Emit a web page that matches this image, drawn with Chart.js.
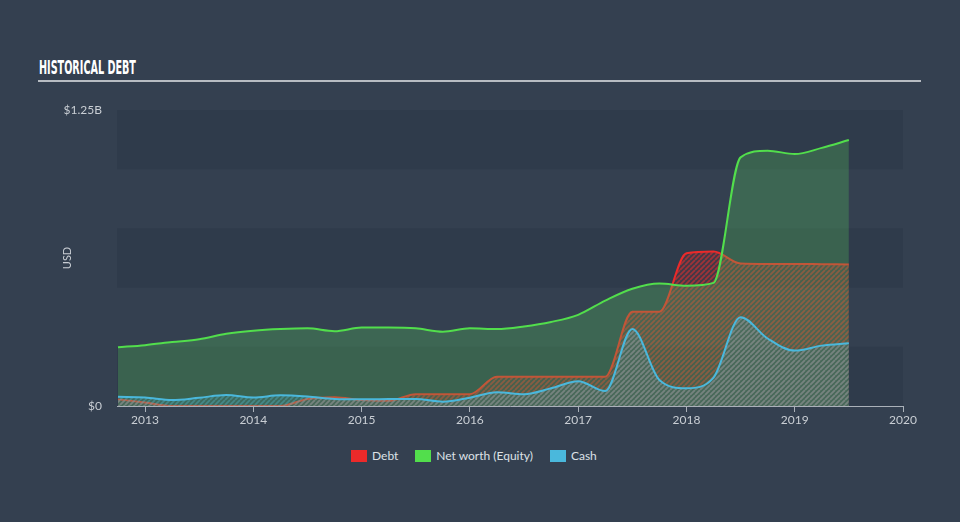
<!DOCTYPE html>
<html>
<head>
<meta charset="utf-8">
<script src="https://cdn.jsdelivr.net/npm/chart.js@4/dist/chart.umd.min.js"></script>
<style>
  html, body { margin: 0; padding: 0; }
  body { width: 960px; height: 522px; background: #344050; position: relative; overflow: hidden; font-family: Lato, "Open Sans", sans-serif; }
  #title { position: absolute; left: 39px; top: 55px; color: #ffffff; font-family: "Liberation Sans Narrow", "DejaVu Sans Condensed", sans-serif; font-weight: bold; font-size: 20px; line-height: 24px; white-space: nowrap; transform-origin: 0 0; }
  #rule { position: absolute; left: 38px; top: 80px; width: 883px; height: 2px; background: #b7bcc2; }
  #chart { position: absolute; left: 0; top: 0; }
  #legend { position: absolute; left: 351px; top: 448px; display: flex; align-items: center; font-size: 12px; color: #dde1e6; }
  #legend .item { display: flex; align-items: center; margin-right: 17px; }
  #legend .box { width: 16px; height: 12px; margin-right: 5px; }
</style>
</head>
<body>
<div id="title">HISTORICAL DEBT</div>
<div id="rule"></div>
<canvas id="chart" width="960" height="440"></canvas>
<div id="legend"></div>
<script>
// ---- data (USD billions) ----
const years = [2012.75, 2013.0, 2013.25, 2013.5, 2013.75, 2014.0, 2014.25, 2014.5, 2014.75,
  2015.0, 2015.25, 2015.5, 2015.75, 2016.0, 2016.25, 2016.5, 2016.75, 2017.0, 2017.25,
  2017.5, 2017.75, 2018.0, 2018.25, 2018.5, 2018.75, 2019.0, 2019.25, 2019.5];
const debt = [0.028, 0.015, 0.0, 0.0, 0.0, 0.0, 0.0, 0.030, 0.037,
  0.025, 0.022, 0.050, 0.050, 0.050, 0.124, 0.124, 0.124, 0.124, 0.124,
  0.398, 0.398, 0.645, 0.652, 0.602, 0.600, 0.600, 0.599, 0.598];
const equity = [0.248, 0.257, 0.270, 0.282, 0.305, 0.318, 0.325, 0.328, 0.316,
  0.331, 0.331, 0.328, 0.314, 0.328, 0.325, 0.336, 0.355, 0.385, 0.445,
  0.495, 0.517, 0.508, 0.520, 1.050, 1.078, 1.064, 1.090, 1.123];
const cash = [0.039, 0.036, 0.025, 0.035, 0.046, 0.036, 0.045, 0.040, 0.030,
  0.028, 0.030, 0.030, 0.018, 0.035, 0.058, 0.050, 0.075, 0.105, 0.063,
  0.325, 0.110, 0.075, 0.120, 0.375, 0.285, 0.234, 0.255, 0.265];
const xTicks = [2013, 2014, 2015, 2016, 2017, 2018, 2019, 2020];
const yTicks = [0, 1.25];
const seriesNames = ['Debt', 'Net worth (Equity)', 'Cash'];
const seriesColors = ['#ec2a2a', '#52de4c', '#4ab8dc'];

// ---- title width fit ----
const t = document.getElementById('title');
t.style.transform = 'scaleX(' + (97 / t.offsetWidth) + ')';

function hatch(stripe, base) {
  const s = 5;
  const c = document.createElement('canvas');
  c.width = s; c.height = s;
  const g = c.getContext('2d');
  g.fillStyle = base; g.fillRect(0, 0, s, s);
  g.strokeStyle = stripe; g.lineWidth = 1.8;
  g.beginPath();
  for (const o of [-s, 0, s]) { g.moveTo(o, s); g.lineTo(o + s, 0); }
  g.stroke();
  return g.createPattern(c, 'repeat');
}

const pts = arr => arr.map((v, i) => ({ x: years[i], y: v }));

const bands = {
  id: 'bands',
  beforeDatasetsDraw(chart) {
    const { ctx, chartArea: a, scales: { y } } = chart;
    ctx.save();
    for (let i = 0; i < 5; i++) {
      if (i % 2) continue;
      const y0 = y.getPixelForValue(i * 0.25), y1 = y.getPixelForValue((i + 1) * 0.25);
      ctx.fillStyle = 'rgba(30,40,55,0.2)';
      ctx.fillRect(a.left, y1, a.right - a.left, y0 - y1);
    }
    ctx.restore();
  }
};

const axisFont = { family: 'Lato, "Open Sans", sans-serif', size: 12 };

new Chart(document.getElementById('chart'), {
  type: 'line',
  data: {
    datasets: [
      { label: seriesNames[0], data: pts(debt), borderColor: seriesColors[0], borderWidth: 2,
        backgroundColor: hatch('rgba(235,45,45,0.55)', 'rgba(235,45,45,0.10)'), fill: 'origin', order: 3 },
      { label: seriesNames[1], data: pts(equity), borderColor: seriesColors[1], borderWidth: 2,
        backgroundColor: 'rgba(85,200,95,0.28)', fill: 'origin', order: 2 },
      { label: seriesNames[2], data: pts(cash), borderColor: seriesColors[2], borderWidth: 2,
        backgroundColor: hatch('rgba(90,190,215,0.35)', 'rgba(90,190,215,0.10)'), fill: 'origin', order: 1 }
    ]
  },
  options: {
    responsive: false,
    animation: false,
    devicePixelRatio: 1,
    layout: { padding: { top: 110, right: 57, left: 0, bottom: 0 } },
    elements: { point: { radius: 0, hoverRadius: 0 }, line: { cubicInterpolationMode: 'monotone' } },
    plugins: {
      legend: { display: false },
      tooltip: { enabled: false },
      filler: { drawTime: 'beforeDatasetDraw' }
    },
    scales: {
      x: {
        type: 'linear', min: 2012.741, max: 2020,
        afterFit: s => { s.height = 34; },
        afterBuildTicks: s => { s.ticks = xTicks.map(v => ({ value: v })); },
        ticks: { color: '#c9ced4', font: axisFont, padding: 1, maxRotation: 0, autoSkip: false, callback: v => String(v) },
        grid: { drawOnChartArea: false, drawTicks: true, tickLength: 6, color: '#aab1b9', lineWidth: 1 },
        border: { display: true, color: '#aab1b9', width: 1 }
      },
      y: {
        min: 0, max: 1.25,
        afterFit: s => { s.width = 117; },
        afterBuildTicks: s => { s.ticks = yTicks.map(v => ({ value: v })); },
        ticks: { color: '#c9ced4', font: axisFont, padding: 15, callback: v => v === 0 ? '$0' : '$' + v + 'B' },
        grid: { display: false, drawTicks: false },
        border: { display: false },
        title: { display: true, text: 'USD', color: '#c9ced4', font: { family: axisFont.family, size: 11 }, padding: { top: 61, bottom: 0 } }
      }
    }
  },
  plugins: [bands]
});

// ---- HTML legend ----
const lg = document.getElementById('legend');
seriesNames.forEach((n, i) => {
  const it = document.createElement('div'); it.className = 'item';
  const b = document.createElement('div'); b.className = 'box'; b.style.background = seriesColors[i];
  const s = document.createElement('span'); s.textContent = n;
  it.appendChild(b); it.appendChild(s); lg.appendChild(it);
});
</script>
</body>
</html>
